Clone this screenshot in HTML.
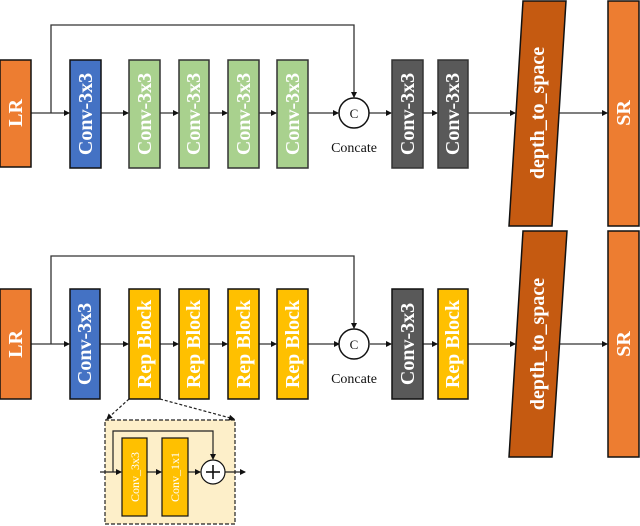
<!DOCTYPE html>
<html><head><meta charset="utf-8"><style>
html,body{margin:0;padding:0;background:#fff;}
svg{display:block;}
text{font-family:"Liberation Serif",serif;}
.b{font-weight:bold;fill:#fff;font-size:20px;}
</style></head><body>
<svg width="640" height="526" viewBox="0 0 640 526" xmlns="http://www.w3.org/2000/svg">
<defs>
<marker id="a" markerWidth="6" markerHeight="6" refX="5" refY="3" orient="auto" markerUnits="userSpaceOnUse"><path d="M0,0 L6,3 L0,6 z" fill="#111"/></marker>
</defs>
<g stroke="#333" stroke-width="1.3" fill="none">
<polyline points="51,113 51,25 354,25 354,97" marker-end="url(#a)"/>
<line x1="31" y1="113" x2="69" y2="113" marker-end="url(#a)"/>
<line x1="101" y1="113" x2="128" y2="113" marker-end="url(#a)"/>
<line x1="160" y1="113" x2="178" y2="113" marker-end="url(#a)"/>
<line x1="209" y1="113" x2="227" y2="113" marker-end="url(#a)"/>
<line x1="259" y1="113" x2="276" y2="113" marker-end="url(#a)"/>
<line x1="308" y1="113" x2="338" y2="113" marker-end="url(#a)"/>
<line x1="369" y1="113" x2="391" y2="113" marker-end="url(#a)"/>
<line x1="423" y1="113" x2="437" y2="113" marker-end="url(#a)"/>
<line x1="468" y1="113" x2="515" y2="113" marker-end="url(#a)"/>
<line x1="559" y1="113" x2="607" y2="113" marker-end="url(#a)"/>
<polyline points="51,344 51,256 354,256 354,328" marker-end="url(#a)"/>
<line x1="31" y1="344" x2="69" y2="344" marker-end="url(#a)"/>
<line x1="100" y1="344" x2="128" y2="344" marker-end="url(#a)"/>
<line x1="160" y1="344" x2="178" y2="344" marker-end="url(#a)"/>
<line x1="209" y1="344" x2="227" y2="344" marker-end="url(#a)"/>
<line x1="259" y1="344" x2="276" y2="344" marker-end="url(#a)"/>
<line x1="308" y1="344" x2="339" y2="344" marker-end="url(#a)"/>
<line x1="370" y1="344" x2="391" y2="344" marker-end="url(#a)"/>
<line x1="423" y1="344" x2="437" y2="344" marker-end="url(#a)"/>
<line x1="468" y1="344" x2="515" y2="344" marker-end="url(#a)"/>
<line x1="559" y1="344" x2="607" y2="344" marker-end="url(#a)"/>
</g>
<g stroke="#111" stroke-width="1.5">
<rect x="0" y="60" width="31" height="107" fill="#ed7d31"/>
<rect x="70" y="60" width="31" height="108" fill="#4472c4"/>
<rect x="129" y="60" width="31" height="108" fill="#a9d18e" stroke="#333"/>
<rect x="179" y="60" width="30" height="108" fill="#a9d18e" stroke="#333"/>
<rect x="228" y="60" width="31" height="108" fill="#a9d18e" stroke="#333"/>
<rect x="277" y="60" width="31" height="108" fill="#a9d18e" stroke="#333"/>
<rect x="392" y="60" width="31" height="108" fill="#595959" stroke="#333"/>
<rect x="438" y="60" width="30" height="108" fill="#595959" stroke="#333"/>
<polygon points="523,1 566,1 552,226 509,226" fill="#c55a11"/>
<rect x="608" y="1" width="31" height="225" fill="#ed7d31"/>
<circle cx="354" cy="113" r="15" fill="#fff"/>
<rect x="0" y="289" width="31" height="110" fill="#ed7d31"/>
<rect x="70" y="289" width="30" height="110" fill="#4472c4"/>
<rect x="129" y="289" width="31" height="110" fill="#ffc000"/>
<rect x="179" y="289" width="30" height="110" fill="#ffc000"/>
<rect x="228" y="289" width="31" height="110" fill="#ffc000"/>
<rect x="277" y="289" width="31" height="110" fill="#ffc000"/>
<rect x="392" y="289" width="31" height="110" fill="#595959"/>
<rect x="438" y="289" width="30" height="110" fill="#ffc000"/>
<polygon points="523,231 567,231 552,457 509,457" fill="#c55a11"/>
<rect x="608" y="231" width="31" height="226" fill="#ed7d31"/>
<circle cx="354" cy="344" r="15" fill="#fff"/>
</g>
<g stroke="#222" stroke-width="1.2" fill="none">
<rect x="105" y="420" width="130" height="104" fill="#fdefc9" stroke-dasharray="4,2"/>
<line x1="129" y1="399" x2="107" y2="419" stroke-dasharray="3,2" marker-end="url(#a)"/>
<line x1="160" y1="399" x2="234" y2="419" stroke-dasharray="3,2" marker-end="url(#a)"/>
<line x1="100" y1="472" x2="121" y2="472" marker-end="url(#a)"/>
<polyline points="113,472 113,431 213,431 213,459" marker-end="url(#a)"/>
<line x1="147" y1="472" x2="161" y2="472" marker-end="url(#a)"/>
<line x1="188" y1="472" x2="200" y2="472" marker-end="url(#a)"/>
<line x1="225" y1="472" x2="245" y2="472" marker-end="url(#a)"/>
<rect x="122" y="438" width="25" height="78" fill="#ffc000" stroke="#111"/>
<rect x="162" y="438" width="26" height="78" fill="#ffc000" stroke="#111"/>
<circle cx="213" cy="472" r="12" fill="#fff" stroke="#111"/>
<line x1="206" y1="472" x2="220" y2="472" stroke="#111" stroke-width="1.6"/>
<line x1="213" y1="465" x2="213" y2="479" stroke="#111" stroke-width="1.6"/>
</g>
<g class="b" text-anchor="middle" dominant-baseline="central">
<text class="b" transform="translate(16,113) rotate(-90)">LR</text>
<text class="b" transform="translate(86,114) rotate(-90)">Conv-3x3</text>
<text class="b" transform="translate(145,114) rotate(-90)">Conv-3x3</text>
<text class="b" transform="translate(194,114) rotate(-90)">Conv-3x3</text>
<text class="b" transform="translate(244,114) rotate(-90)">Conv-3x3</text>
<text class="b" transform="translate(293,114) rotate(-90)">Conv-3x3</text>
<text class="b" transform="translate(408,114) rotate(-90)">Conv-3x3</text>
<text class="b" transform="translate(453,114) rotate(-90)">Conv-3x3</text>
<text class="b" transform="translate(538,113) rotate(-90)">depth_to_space</text>
<text class="b" transform="translate(624,113) rotate(-90)">SR</text>
<text class="b" transform="translate(16,344) rotate(-90)">LR</text>
<text class="b" transform="translate(85,344) rotate(-90)">Conv-3x3</text>
<text class="b" transform="translate(145,344) rotate(-90)">Rep Block</text>
<text class="b" transform="translate(194,344) rotate(-90)">Rep Block</text>
<text class="b" transform="translate(244,344) rotate(-90)">Rep Block</text>
<text class="b" transform="translate(293,344) rotate(-90)">Rep Block</text>
<text class="b" transform="translate(408,344) rotate(-90)">Conv-3x3</text>
<text class="b" transform="translate(453,344) rotate(-90)">Rep Block</text>
<text class="b" transform="translate(538,344) rotate(-90)">depth_to_space</text>
<text class="b" transform="translate(624,344) rotate(-90)">SR</text>
<text transform="translate(135,477) rotate(-90)" style="font-size:12px;fill:#fff;font-weight:normal">Conv_3x3</text>
<text transform="translate(175,477) rotate(-90)" style="font-size:12px;fill:#fff;font-weight:normal">Conv_1x1</text>
</g>
<g text-anchor="middle" fill="#111" font-size="14">
<text x="354" y="118" font-size="13">C</text>
<text x="354" y="152">Concate</text>
<text x="354" y="349" font-size="13">C</text>
<text x="354" y="383">Concate</text>
</g>
</svg>
</body></html>
